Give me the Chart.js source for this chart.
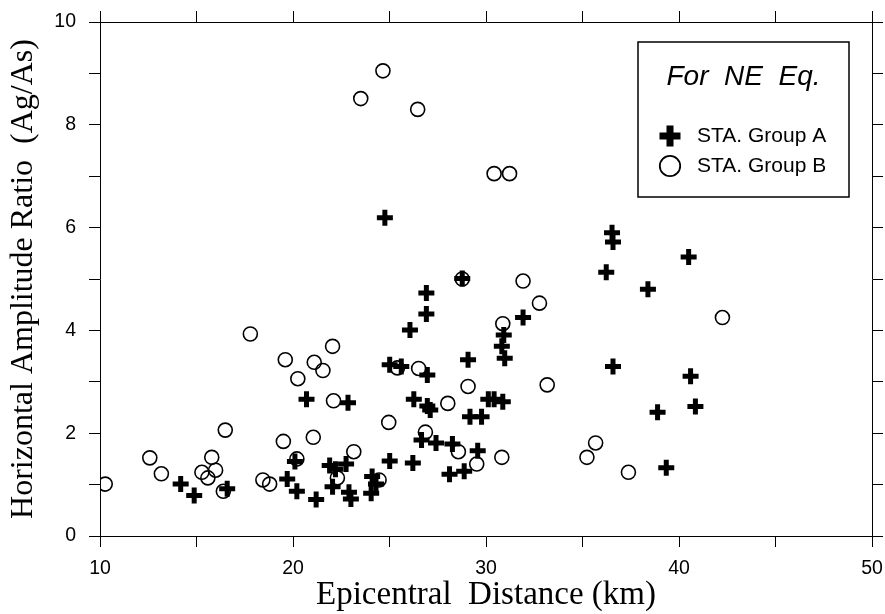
<!DOCTYPE html>
<html><head><meta charset="utf-8">
<script src="https://cdn.jsdelivr.net/npm/chart.js@4.4.0/dist/chart.umd.min.js"></script>
<style>html,body{margin:0;padding:0;background:#fff;}#wrap{width:885px;height:614px;}</style>
</head><body><div id="wrap"><canvas id="c" width="885" height="614"></canvas></div>
<script>
// Group A (crosses)
const groupA_x = [14.18,14.88,16.59,19.70,20.10,20.20,20.70,21.20,21.90,22.20,22.75,22.05,22.85,22.90,23.00,24.10,24.30,24.05,24.76,25.01,25.01,25.61,26.06,26.21,26.26,26.66,26.91,26.91,26.96,26.96,27.11,27.41,28.11,28.26,28.77,28.87,29.07,29.17,29.57,29.77,30.12,30.42,30.87,30.82,30.92,30.97,31.92,36.23,36.53,36.58,36.58,38.39,38.89,39.34,40.50,40.60,40.85];
const groupA_y = [1.01,0.79,0.92,1.11,1.45,0.87,2.66,0.71,1.37,1.30,1.40,0.96,2.59,0.85,0.72,1.16,1.01,0.83,6.19,1.46,3.33,3.30,4.01,1.42,2.66,1.87,4.73,4.32,3.13,2.53,2.45,1.81,1.20,1.79,5.01,1.26,3.43,2.32,1.66,2.32,2.66,2.66,2.61,3.69,3.91,3.46,4.25,5.13,5.90,5.72,3.30,4.80,2.41,1.33,5.43,3.11,2.52];
// Group B (circles)
const groupB_x = [10.27,12.58,13.18,15.28,15.59,15.79,15.99,16.39,16.49,17.79,18.44,18.79,19.50,19.60,20.20,20.25,21.05,21.10,21.55,22.05,22.10,22.30,23.15,23.51,24.46,24.66,24.96,25.41,26.46,26.51,26.86,28.02,28.57,28.77,29.07,29.52,30.42,30.82,30.87,31.22,31.92,32.77,33.17,35.23,35.68,37.38,42.25];
const groupB_y = [1.01,1.52,1.21,1.24,1.13,1.53,1.28,0.87,2.06,3.93,1.09,1.01,1.84,3.43,1.50,3.06,1.92,3.38,3.22,3.69,2.63,1.13,1.64,8.51,1.09,9.05,2.21,3.27,8.30,3.26,2.02,2.58,1.64,5.00,2.91,1.40,7.05,1.53,4.13,7.05,4.96,4.53,2.94,1.53,1.81,1.24,4.25];

const xTickLabels = [10,20,30,40,50];
const yTickLabels = [0,2,4,6,8,10];
const seriesNames = ['STA. Group A','STA. Group B'];
const legendTitle = 'For  NE  Eq.';
const xTitle = 'Epicentral  Distance (km)';
const yTitle = 'Horizontal Amplitude Ratio  (Ag/As)';

const toPts = (xs, ys) => xs.map((x, i) => ({x: x, y: ys[i]}));
const SANS = '"Liberation Sans", Arial, sans-serif';
const SERIF = '"Liberation Serif", "Times New Roman", serif';

const gridOpts = {drawOnChartArea:false, drawTicks:true, tickLength:11, color:'#000', lineWidth:1};
const borderOpts = {display:true, color:'#000', width:1};

const legendPlugin = {
  id: 'boxLegend',
  afterDraw(chart) {
    const ctx = chart.ctx;
    const ca = chart.chartArea;
    const bx = ca.right - 234, by = ca.top + 20, bw = 211, bh = 155;
    ctx.save();
    ctx.strokeStyle = '#000';
    ctx.lineWidth = 1.5;
    ctx.strokeRect(bx, by, bw, bh);
    ctx.fillStyle = '#000';
    ctx.textAlign = 'center';
    ctx.textBaseline = 'middle';
    ctx.font = 'italic 28px ' + SANS;
    ctx.fillText(legendTitle, bx + bw/2, by + 35);
    const mx = bx + 32;
    const yA = by + 94, yB = by + 124;
    ctx.lineWidth = 7;
    ctx.lineCap = 'butt';
    ctx.beginPath();
    ctx.moveTo(mx - 10.5, yA); ctx.lineTo(mx + 10.5, yA);
    ctx.moveTo(mx, yA - 10.5); ctx.lineTo(mx, yA + 10.5);
    ctx.stroke();
    ctx.lineWidth = 1.8;
    ctx.beginPath();
    ctx.arc(mx, yB, 10.2, 0, Math.PI*2);
    ctx.stroke();
    ctx.textAlign = 'left';
    ctx.font = '21px ' + SANS;
    ctx.fillText(seriesNames[0], bx + 59, yA);
    ctx.fillText(seriesNames[1], bx + 59, yB);
    ctx.restore();
  }
};

const fixH = (h) => (s) => { s.height = h; s.paddingLeft = 0; s.paddingRight = 0; s.paddingTop = 0; s.paddingBottom = 0; };
const fixW = (w) => (s) => { s.width = w; s.paddingLeft = 0; s.paddingRight = 0; s.paddingTop = 0; s.paddingBottom = 0; };

new Chart(document.getElementById('c'), {
  type: 'scatter',
  data: {
    datasets: [
      {label: seriesNames[0], data: toPts(groupA_x, groupA_y), pointStyle:'cross', radius:8, borderWidth:5, borderColor:'#000', backgroundColor:'#000', hoverRadius:8},
      {label: seriesNames[1], data: toPts(groupB_x, groupB_y), pointStyle:'circle', radius:7, borderWidth:1.6, borderColor:'#000', backgroundColor:'rgba(0,0,0,0)', hoverRadius:7}
    ]
  },
  options: {
    responsive:false, animation:false, devicePixelRatio:1,
    layout:{padding:0},
    plugins:{legend:{display:false}, tooltip:{enabled:false}},
    events:[],
    scales:{
      x:{type:'linear', position:'bottom', min:10, max:50,
        ticks:{stepSize:5, padding:10, color:'#000', font:{family:SANS, size:19.5}, maxRotation:0,
          callback:(v)=> xTickLabels.includes(v) ? String(v) : ''},
        grid:gridOpts, border:borderOpts,
        title:{display:true, text:xTitle, color:'#000', font:{family:SERIF, size:33, lineHeight:1}, padding:{top:0,bottom:2}},
        afterFit:fixH(78)
      },
      x2:{type:'linear', position:'top', min:10, max:50,
        ticks:{stepSize:5, callback:()=>''},
        grid:gridOpts, border:borderOpts,
        afterFit:fixH(22)
      },
      y:{type:'linear', position:'left', min:0, max:10,
        ticks:{stepSize:1, padding:13, color:'#000', font:{family:SANS, size:19.5},
          callback:(v)=> yTickLabels.includes(v) ? String(v) : ''},
        grid:gridOpts, border:borderOpts,
        title:{display:true, text:yTitle, color:'#000', font:{family:SERIF, size:32, lineHeight:1}, padding:{top:8,bottom:0}},
        afterFit:fixW(100)
      },
      y2:{type:'linear', position:'right', min:0, max:10,
        ticks:{stepSize:1, callback:()=>''},
        grid:gridOpts, border:borderOpts,
        afterFit:fixW(13)
      }
    }
  },
  plugins:[legendPlugin]
});
</script></body></html>
